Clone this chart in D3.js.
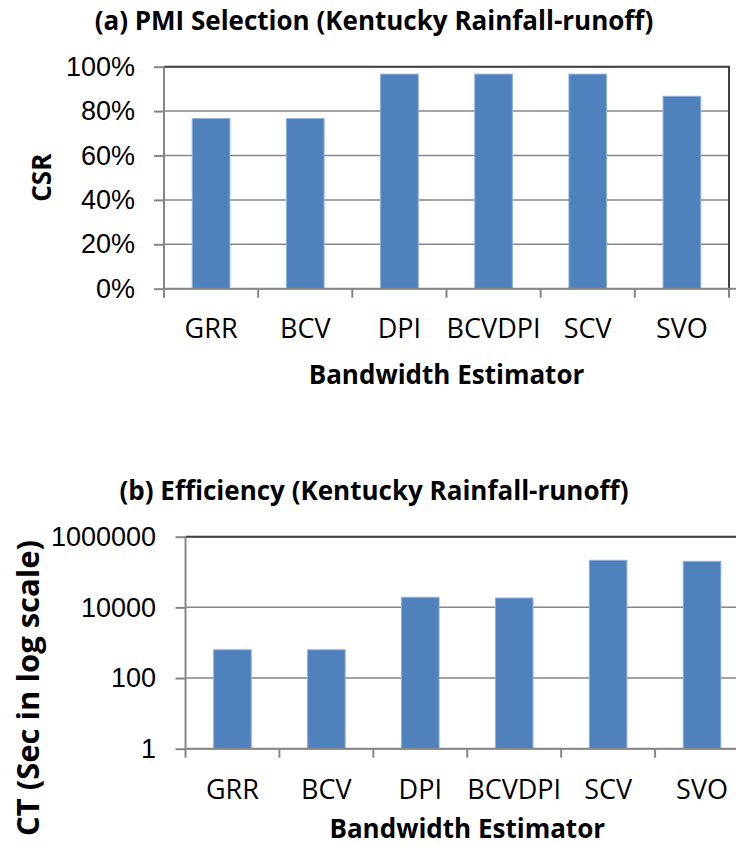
<!DOCTYPE html>
<html>
<head>
<meta charset="utf-8">
<script src="https://cdn.jsdelivr.net/npm/d3@7"></script>
<style>
  body { margin: 0; background: #fff; }
  svg { display: block; font-family: 'Open Sans', sans-serif; }
  .grid line { stroke: #868686; stroke-width: 1.5px; }
  .axis path, .axis line { stroke: #868686; stroke-width: 2px; }
  .axis text { fill: #000; }
  .border { fill: none; stroke: #404040; stroke-width: 2px; }
  .bar { fill: #4f81bd; stroke: #8eb0da; stroke-width: 1px; }
  .title, .label { font-weight: bold; fill: #000; }
</style>
</head>
<body>
<svg width="736" height="847"></svg>
<script>
const categories = ['GRR', 'BCV', 'DPI', 'BCVDPI', 'SCV', 'SVO']
const csrValues = [0.7667, 0.7667, 0.9667, 0.9667, 0.9667, 0.8667]
const ctValues = [630, 630, 19300, 18400, 215000, 201000]
const csrTicks = [0, 0.2, 0.4, 0.6, 0.8, 1]
const ctTicks = [1, 100, 10000, 1000000]

const svg = d3.select('svg')

function drawPanel ({ box, yScale, ticks, tickFormat, values, title, yLabel, tickLabelX, titleY, catY, xLabelY, yLabelPos, yLabelSize }) {
  const g = svg.append('g')
  const xScale = d3.scaleBand(categories, [box.left, box.right])
    .paddingInner(0.6)
    .paddingOuter(0.3)
  const step = xScale.step()

  // gridlines
  g.append('g')
    .classed('grid', true)
    .selectAll('line')
    .data(ticks)
    .join('line')
    .attr('x1', box.left)
    .attr('x2', box.right)
    .attr('y1', d => yScale(d))
    .attr('y2', d => yScale(d))

  // bars
  g.append('g')
    .selectAll('rect')
    .data(values)
    .join('rect')
    .classed('bar', true)
    .attr('x', (d, i) => xScale(categories[i]))
    .attr('width', xScale.bandwidth())
    .attr('y', d => yScale(d))
    .attr('height', d => yScale.range()[0] - yScale(d))

  // plot border (top / right)
  g.append('path')
    .classed('border', true)
    .attr('d', `M${ box.left },${ box.top }H${ box.right }V${ box.bottom }`)

  // Y axis
  const yAxis = d3.axisLeft(yScale)
    .tickValues(ticks)
    .tickFormat(tickFormat)
    .tickSize(10)
    .tickPadding(0)
  const yAxisEl = g.append('g')
    .classed('axis', true)
    .attr('transform', `translate(${ box.left },0)`)
    .call(yAxis)
  yAxisEl.select('.domain').attr('d', `M0,${ box.top }V${ box.bottom }`)
  yAxisEl.selectAll('.tick text')
    .attr('x', tickLabelX - box.left)
    .style('font-size', '27px')

  // X axis (ticks on category boundaries)
  const xAxisEl = g.append('g')
    .classed('axis', true)
    .attr('transform', `translate(0,${ box.bottom })`)
  xAxisEl.append('line')
    .attr('x1', box.left)
    .attr('x2', Math.max(box.right, 736))
    .attr('y1', 0)
    .attr('y2', 0)
  xAxisEl.selectAll('.cat-tick')
    .data(categories.concat(['end']))
    .join('line')
    .classed('cat-tick', true)
    .attr('x1', (d, i) => box.left + i * step)
    .attr('x2', (d, i) => box.left + i * step)
    .attr('y1', 0)
    .attr('y2', 9)
  xAxisEl.selectAll('text')
    .data(categories)
    .join('text')
    .attr('x', d => xScale(d) + xScale.bandwidth() / 2)
    .attr('y', catY - box.bottom)
    .attr('text-anchor', 'middle')
    .style('font-size', '27px')
    .text(d => d)

  // titles
  g.append('text')
    .classed('title', true)
    .attr('x', 374)
    .attr('y', titleY)
    .attr('text-anchor', 'middle')
    .style('font-size', '26px')
    .text(title)

  g.append('text')
    .classed('label', true)
    .attr('x', (box.left + box.right) / 2)
    .attr('y', xLabelY)
    .attr('text-anchor', 'middle')
    .style('font-size', '26px')
    .text('Bandwidth Estimator')

  g.append('text')
    .classed('label', true)
    .attr('transform', `translate(${ yLabelPos[0] },${ yLabelPos[1] }) rotate(-90)`)
    .attr('text-anchor', 'middle')
    .style('font-size', yLabelSize)
    .text(yLabel)
}

// (a) CSR panel
const boxA = { left: 164, right: 729, top: 66.7, bottom: 288.7 }
drawPanel({
  box: boxA,
  yScale: d3.scaleLinear([0, 1], [boxA.bottom, boxA.top]),
  ticks: csrTicks,
  tickFormat: d3.format('.0%'),
  values: csrValues,
  title: '(a) PMI Selection (Kentucky Rainfall-runoff)',
  yLabel: 'CSR',
  tickLabelX: 135,
  titleY: 30,
  catY: 338,
  xLabelY: 384,
  yLabelPos: [51, 177.7],
  yLabelSize: '26px',
})

// (b) CT panel (log scale)
const boxB = { left: 185.5, right: 749, top: 536.7, bottom: 748.7 }
drawPanel({
  box: boxB,
  yScale: d3.scaleLog([1, 1000000], [boxB.bottom, boxB.top]),
  ticks: ctTicks,
  tickFormat: d3.format('d'),
  values: ctValues,
  title: '(b) Efficiency (Kentucky Rainfall-runoff)',
  yLabel: 'CT (Sec in log scale)',
  tickLabelX: 156,
  titleY: 500,
  catY: 799,
  xLabelY: 838,
  yLabelPos: [39, 688],
  yLabelSize: '31px',
})
</script>
</body>
</html>
